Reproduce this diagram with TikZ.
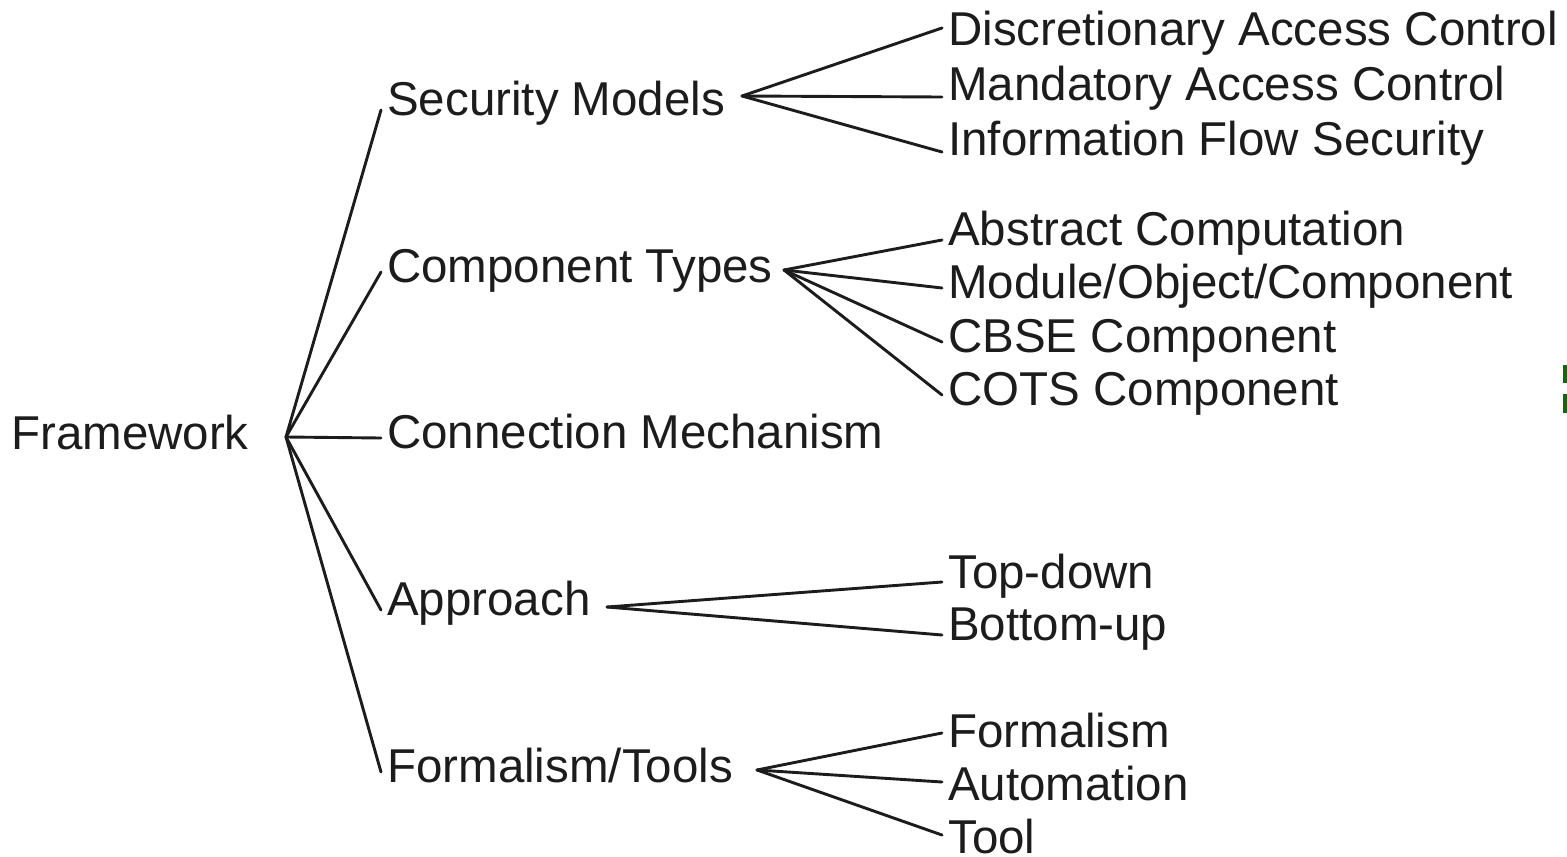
\documentclass[tikz,border=0pt]{standalone}
\usepackage{fontspec}
\setmainfont{Liberation Sans}
\definecolor{ink}{HTML}{1C1C1C}
\definecolor{slidegreen}{HTML}{0B6B0B}
\begin{document}
\begin{tikzpicture}[x=1pt,y=-1pt,
  lbl/.style={anchor=base west, inner xsep=6pt, inner ysep=0pt, text height=30pt, text depth=10pt, text=ink, font=\fontsize{47.5}{56}\selectfont},
  branch/.style={draw=ink, line width=2.9pt, line cap=round}]
\useasboundingbox (0,0) rectangle (1567,857);

% root
\node[lbl] (fw) at (5,449) {Framework};
\coordinate (fwj) at (286,437);

% first level
\node[lbl] (sm) at (381,115) {Security Models};
\node[lbl] (ct) at (381,282) {Component Types};
\node[lbl] (cm) at (381,448) {Connection Mechanism};
\node[lbl] (ap) at (381,615) {Approach};
\node[lbl] (ft) at (381,782) {Formalism/Tools};

\foreach \n/\s in {sm/-5,ct/0,cm/0,ap/-5,ft/0}
  \draw[branch] (fwj) -- ([yshift=\s pt]\n.west);

% leaves
\node[lbl] (dac) at (942,45) {Discretionary Access Control};
\node[lbl] (mac) at (942,100) {Mandatory Access Control};
\node[lbl] (ifs) at (942,155) {Information Flow Security};

\node[lbl] (abs) at (942,245) {Abstract Computation};
\node[lbl] (moc) at (942,298) {Module/Object/Component};
\node[lbl] (cbse) at (942,352) {CBSE Component};
\node[lbl] (cots) at (942,405) {COTS Component};

\node[lbl] (td) at (942,588) {Top-down};
\node[lbl] (bu) at (942,640) {Bottom-up};

\node[lbl] (fm) at (942,747) {Formalism};
\node[lbl] (au) at (942,800) {Automation};
\node[lbl, text depth=2pt] (tl) at (942,853) {Tool};

\coordinate (smj) at (742,96);
\coordinate (ctj) at (784,270);
\coordinate (apj) at (607,607);
\coordinate (ftj) at (757,770);

\foreach \n/\s in {dac/7,mac/-7,ifs/-7}
  \draw[branch] (smj) -- ([yshift=\s pt]\n.west);
\foreach \n/\s in {abs/-5,moc/0,cbse/0,cots/0}
  \draw[branch] (ctj) -- ([yshift=\s pt]\n.west);
\foreach \n/\s in {td/-4,bu/-5}
  \draw[branch] (apj) -- ([yshift=\s pt]\n.west);
\foreach \n/\s in {fm/4,au/8,tl/4}
  \draw[branch] (ftj) -- ([yshift=\s pt]\n.west);

% cut-off mark at the right edge
\fill[slidegreen] (1563,365) rectangle (1567,383);
\fill[slidegreen] (1563,394) rectangle (1567,413);

\end{tikzpicture}
\end{document}
